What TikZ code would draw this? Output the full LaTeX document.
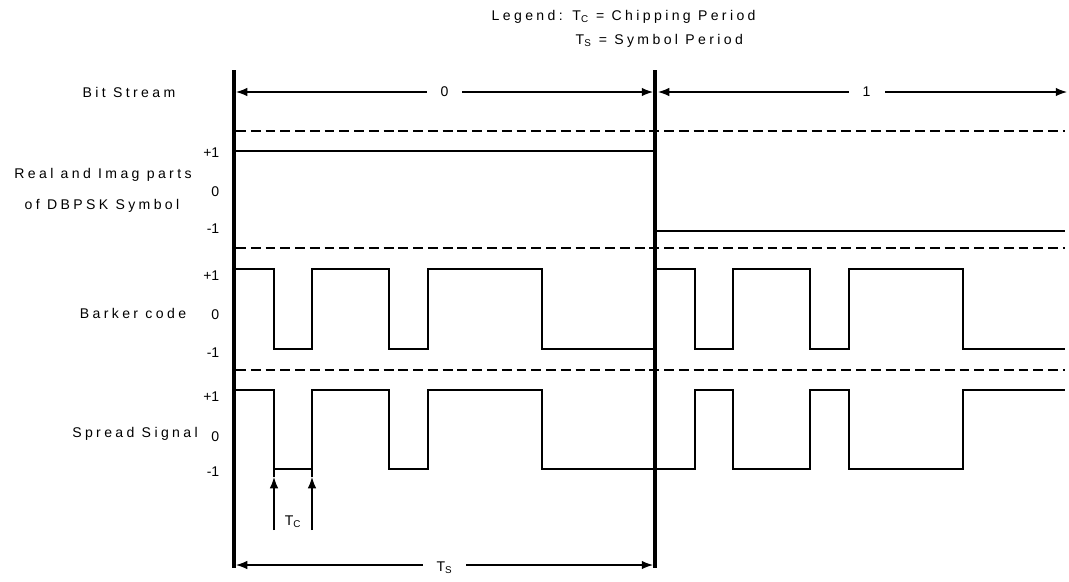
\documentclass[tikz,border=0pt]{standalone}
\usepackage{fontspec}
\setmainfont{Liberation Sans}
\newfontfamily\lblfont[LetterSpace=24]{Liberation Sans}
\usetikzlibrary{arrows.meta,positioning}

\begin{document}
\begin{tikzpicture}[x=0.025cm,y=-0.025cm,
  lbl/.style={font=\lblfont\fontsize{10}{12}\selectfont,inner sep=1pt},
  val/.style={font=\fontsize{10}{12}\selectfont,anchor=east,inner sep=1pt},
  sig/.style={line width=0.8pt},
  bar/.style={line width=2.2pt},
  dsh/.style={line width=0.9pt,dash pattern=on 7pt off 3.5pt},
  tip/.style={-{Latex[length=8pt,width=6pt]}},
  dim/.style={sig,{Latex[length=8pt,width=6pt]}-{Latex[length=8pt,width=6pt]}},
  gap/.style={lbl,fill=white,inner xsep=10pt}]
  \useasboundingbox (0,0) rectangle (1069,581);
  % legend
  \node[lbl,anchor=west] (legc) at (490,17) {Legend: T\textsubscript{C} = Chipping Period};
  \node[lbl,anchor=west] (legs) at (574,41) {T\textsubscript{S} = Symbol Period};
  % row titles
  \node[lbl] (bits) at (129,92) {Bit Stream};
  \node[lbl] (reim) at (103,175) {Real and Imag parts};
  \node[lbl] (dbpsk) at (102,206) {of DBPSK Symbol};
  \node[lbl] (barker) at (133,313) {Barker code};
  \node[lbl] (spread) at (135,434) {Spread Signal};
  % levels
  \foreach \y/\v in {153/+1,192/0,229/-1,276/+1,315/0,353/-1,397/+1,437/0,472/-1}
    \node[val] at (221,\y) {\v};
  % separators
  \foreach \y in {131,248,370} \draw[dsh] (236,\y) -- (1065,\y);
  % DBPSK symbol
  \draw[sig] (234,151) -- (655,151);
  \draw[sig] (655,231) -- (1065,231);
  % barker code and spread signal, one symbol each
  \foreach \s/\y/\z/\e in {234/269/349/655, 655/269/349/1065, 234/390/469/655, 655/469/390/1065}
    \draw[sig] (\s,\y) -| (\s+40,\z) -| (\s+78,\y) -| (\s+155,\z) -| (\s+194,\y) -| (\s+308,\z) -- (\e,\z);
  % symbol boundaries
  \draw[bar] (234,70) -- (234,568);
  \draw[bar] (655,70) -- (655,568);
  % bit stream
  \coordinate (b0) at (236,92);
  \coordinate (b1) at (653,92);
  \coordinate (b2) at (658,92);
  \coordinate (b3) at (1067,92);
  \draw[dim] (b0) -- node[gap] (bit0) {0} (b1);
  \draw[dim] (b2) -- node[gap,pos=0.51] (bit1) {1} (b3);
  % chip period
  \coordinate (c1b) at (274,530);
  \coordinate (c1m) at (274,477);
  \coordinate (c1t) at (274,469);
  \coordinate (c2b) at (312,530);
  \coordinate (c2m) at (312,477);
  \coordinate (c2t) at (312,469);
  \draw[sig,tip] (c1b) -- (c1m);
  \draw[sig] (c1m) -- (c1t);
  \draw[sig,tip] (c2b) -- (c2m);
  \draw[sig] (c2m) -- (c2t);
  \node[lbl] (tc) at (293,522) {T\textsubscript{C}};
  % symbol period
  \coordinate (t0) at (236,565);
  \coordinate (t1) at (653,565);
  \draw[dim] (t0) -- node[gap,yshift=-2pt] (ts) {T\textsubscript{S}} (t1);
\end{tikzpicture}
\end{document}
